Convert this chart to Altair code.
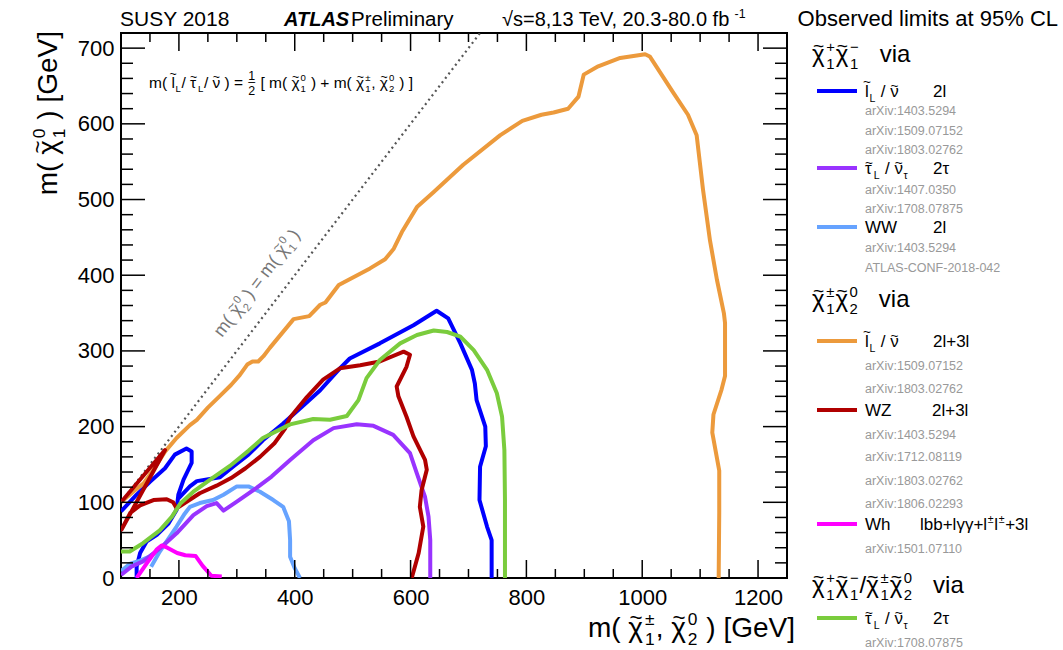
import math
import altair as alt
import pandas as pd

# ---------------- observed exclusion contours (GeV) ----------------
# chi1+ chi1- via slepton/sneutrino (2l): small diagonal loop + main contour
blue_a_x = [100, 127, 150, 176, 193, 213, 222, 222, 208, 199, 196, 182, 162, 144, 133, 127, 127]
blue_a_y = [88, 110, 127, 145, 163, 171, 167, 152, 130, 110, 90, 72, 57, 48, 33, 15, 0]
blue_b_x = [199, 219, 231, 271, 295, 320, 345, 380, 412, 444, 478, 495, 547, 605, 645, 665, 686, 706, 711, 714, 729, 730, 720, 719, 732, 740, 740]
blue_b_y = [105, 121, 128, 133, 148, 163, 182, 204, 226, 248, 277, 290, 310, 334, 353, 343, 310, 275, 257, 235, 200, 174, 147, 103, 68, 50, 0]
# chi1+ chi1- via stau/sneutrino-tau (2tau)
purple_x = [100, 118, 138, 167, 196, 225, 248, 265, 277, 300, 334, 360, 392, 432, 467, 507, 536, 570, 599, 611, 625, 631, 634, 634]
purple_y = [4, 15, 22, 39, 59, 83, 95, 99, 89, 101, 119, 134, 156, 182, 198, 203, 201, 189, 165, 138, 107, 81, 50, 0]
# chi1+ chi1- via WW (2l)
lblue_a_x = [100, 116, 133, 148, 160]
lblue_a_y = [9, 19, 23, 28, 34]
lblue_b_x = [152, 167, 182, 196, 210, 219, 236, 259, 277, 300, 320, 340, 363, 380, 390, 392, 392, 400, 409]
lblue_b_y = [15, 35, 52, 68, 85, 94, 99, 103, 110, 121, 121, 114, 103, 94, 75, 50, 28, 13, 0]
# chi1+- chi20 via slepton/sneutrino (2l+3l)
orange_x = [100, 121, 139, 156, 176, 196, 219, 231, 250, 270, 290, 305, 318, 327, 337, 346, 357, 398, 425, 444,
            453, 476, 530, 556, 571, 585, 611, 640, 691, 755, 793, 826, 847, 872, 890, 899, 924, 962, 1005, 1013,
            1053, 1079, 1094, 1105, 1117, 1129, 1141, 1143, 1143, 1137, 1123, 1121, 1133, 1133, 1132]
orange_y = [100, 114, 125, 143, 167, 185, 202, 209, 225, 240, 255, 268, 282, 286, 286, 293, 304, 342, 346, 361,
            364, 387, 409, 421, 435, 457, 490, 510, 546, 585, 604, 612, 615, 620, 636, 665, 676, 687, 692, 689,
            642, 612, 585, 513, 446, 394, 350, 337, 267, 249, 216, 192, 142, 87, 0]
# chi1+- chi20 via WZ (2l+3l)
red_x = [101, 176, 101, 116, 133, 156, 179, 190, 196, 214, 236, 265, 290, 315, 340, 365, 383, 392, 421, 449,
         478, 513, 547, 588, 599, 593, 576, 579, 593, 605, 625, 628, 619, 616, 622, 614, 602]
red_y = [101, 169, 64, 86, 96, 103, 104, 100, 92, 101, 112, 122, 132, 145, 160, 178, 197, 212, 239, 262,
         277, 281, 286, 299, 295, 279, 253, 240, 213, 187, 156, 143, 116, 94, 68, 33, 0]
# chi1+- chi20 via Wh
magenta_x = [127, 145, 162, 170, 180, 197, 211, 229, 241, 256, 274]
magenta_y = [0, 20, 38, 43, 40, 33, 30, 29, 16, 3, 2]
# chi1+chi1- / chi1+- chi20 via stau (2tau)
green_x = [100, 115, 138, 167, 188, 202, 225, 254, 288, 320, 345, 392, 432, 461, 490, 510, 524, 547, 582, 611,
           640, 663, 686, 709, 732, 749, 758, 762, 763, 763]
green_y = [35, 35, 46, 63, 81, 98, 114, 130, 148, 168, 185, 203, 210, 209, 214, 235, 264, 288, 310, 321,
           327, 325, 319, 301, 275, 244, 213, 169, 103, 0]
# kinematic diagonal m(chi20) = m(chi10)
diag_x = [100, 720]
diag_y = [100, 720]

# ---------------- axis ticks ----------------
x_major = [200, 400, 600, 800, 1000, 1200]
x_minor = [v for v in range(150, 1250, 50) if v % 200]
y_major = [0, 100, 200, 300, 400, 500, 600, 700]
y_minor = [v for v in range(20, 720, 20) if v % 100]

# ---------------- texts ----------------
header_left = "SUSY 2018"
header_atlas = "ATLAS"
header_prelim = "Preliminary"
header_energy = "√s=8,13 TeV, 20.3-80.0 fb^{-1}"
header_right = "Observed limits at 95% CL"
x_title = "m( ~χ_{1}^{±}, ~χ_{2}^{0} ) [GeV]"
y_title = "m( ~χ_{1}^{0} ) [GeV]"
mass_relation = "m( ~l_{L}/ ~τ_{L}/ ~ν ) = ½ [ m( ~χ_{1}^{0} ) + m( ~χ_{1}^{±}, ~χ_{2}^{0} ) ]"
diag_label = "m( ~χ_{2}^{0} ) = m( ~χ_{1}^{0} )"
group_heads = ["~χ_{1}^{+}~χ_{1}^{−}   via", "~χ_{1}^{±}~χ_{2}^{0}   via",
               "~χ_{1}^{+}~χ_{1}^{−}/~χ_{1}^{±}~χ_{2}^{0}   via"]
entry_names = ["~l_{L} / ~ν", "~τ_{L} / ~ν_{τ}", "WW", "~l_{L} / ~ν", "WZ", "Wh", "~τ_{L} / ~ν_{τ}"]
entry_final = ["2l", "2τ", "2l", "2l+3l", "2l+3l", "lbb+lγγ+l^{±}l^{±}+3l", "2τ"]
entry_refs = [["arXiv:1403.5294", "arXiv:1509.07152", "arXiv:1803.02762"],
              ["arXiv:1407.0350", "arXiv:1708.07875"],
              ["arXiv:1403.5294", "ATLAS-CONF-2018-042"],
              ["arXiv:1509.07152", "arXiv:1803.02762"],
              ["arXiv:1403.5294", "arXiv:1712.08119", "arXiv:1803.02762", "arXiv:1806.02293"],
              ["arXiv:1501.07110"],
              ["arXiv:1708.07875"]]
curve_colors = ["#0000ff", "#9933ff", "#66a3ff", "#ec9a3c", "#b00000", "#ff00ff", "#7acc3d"]

# ---------------- layout constants ----------------
FONT = "Liberation Sans"
L0, T0, PW, PH = 121, 33, 666, 545

W = {}
for chars, w in [("0123456789", .556), (" ", .278), ("()", .333), ("[]", .278), (",.:/", .278),
                 ("=+~", .584), ("-", .333), ("−", .584), ("±", .549), ("%", .889), ("√", .55),
                 ("abdeghnopqu", .556), ("cksvxyz", .5), ("ft", .278), ("ijl", .222), ("m", .833),
                 ("r", .333), ("w", .722), ("ABEKPSVXY", .667), ("CDHNRU", .722), ("GOQ", .778),
                 ("FTZ", .611), ("I", .278), ("J", .5), ("L", .556), ("M", .833), ("W", .944),
                 ("χ", .55), ("ν", .5), ("τ", .47), ("γ", .5), ("–", .556)]:
    for ch in chars:
        W[ch] = w


def tw(s, fs):
    return fs * sum(W.get(ch, .556) for ch in s)


def parse(s):
    toks, buf, i = [], "", 0
    while i < len(s):
        c = s[i]
        if c == "~":
            if buf:
                toks.append(("n", buf)); buf = ""
            toks.append(("t", s[i + 1])); i += 2
        elif c in "_^":
            if buf:
                toks.append(("n", buf)); buf = ""
            sub = sup = ""
            while i < len(s) and s[i] in "_^":
                j = s.index("}", i)
                if s[i] == "_":
                    sub = s[i + 2:j]
                else:
                    sup = s[i + 2:j]
                i = j + 1
            toks.append(("s", sub, sup))
        elif c == "½":
            if buf:
                toks.append(("n", buf)); buf = ""
            toks.append(("f",)); i += 1
        else:
            buf += c; i += 1
    if buf:
        toks.append(("n", buf))
    return toks


def measure(toks, fs):
    adv = 0.0
    for t in toks:
        if t[0] in ("n", "t"):
            adv += tw(t[1], fs)
        elif t[0] == "s":
            adv += max(tw(t[1], .62 * fs), tw(t[2], .62 * fs)) + .08 * fs
        else:
            adv += tw("1", .8 * fs) + .12 * fs
    return adv


def place(s, x, y, fs, color="#000000", ang=0.0, right=False, whole=False):
    toks = parse(s)
    th = math.radians(ang)
    dx, dy, nx, ny = math.cos(th), math.sin(th), -math.sin(th), math.cos(th)
    if right:
        tot = measure(toks, fs)
        x -= tot * dx; y -= tot * dy
    out = []

    def put(t, a, o, size):
        out.append({"t": t, "x": x - L0 + a * dx + o * nx, "y": y - T0 + a * dy + o * ny,
                    "fs": round(size, 2), "c": color})

    def put_words(s_, a, o, size):
        # SVG collapses runs of spaces: place every word on its own
        if whole and s_.strip() == s_ and "  " not in s_:
            put(s_, a, o, size)
            return
        pos = a
        for k, word in enumerate(s_.split(" ")):
            if k:
                pos += tw(" ", size)
            if word:
                put(word, pos, o, size)
            pos += tw(word, size)

    adv = 0.0
    for t in toks:
        if t[0] == "n":
            put_words(t[1], adv, 0, fs); adv += tw(t[1], fs)
        elif t[0] == "t":
            w = tw(t[1], fs)
            put(t[1], adv, 0, fs)
            ts = .8 * fs
            off = -.66 * fs if t[1] in "lbdhk" else -.42 * fs
            put("~", adv + (w - tw("~", ts)) / 2, off, ts)
            adv += w
        elif t[0] == "s":
            ss = .62 * fs
            if t[1]:
                put(t[1], adv + .04 * fs, .28 * fs, ss)
            if t[2]:
                put(t[2], adv + .04 * fs, -.42 * fs, ss)
            adv += max(tw(t[1], ss), tw(t[2], ss)) + .08 * fs
        else:
            fz = .8 * fs
            put("1", adv + .06 * fs, -.5 * fs, fz)
            put("2", adv + .06 * fs, .42 * fs, fz)
            put("–", adv + .06 * fs, -.1 * fs, fz)
            adv += tw("1", fz) + .12 * fs
    return out


hor, vert, dia = [], [], []
hor += place(header_left, 120, 26, 21, whole=True)
hor += place(header_prelim, 351, 26, 20.5, whole=True)
hor += place(header_energy, 502, 26, 20, whole=True)
hor += place(header_right, 1058, 26, 22, right=True, whole=True)
bold = [{"t": header_atlas, "x": 284 - L0, "y": 26 - T0, "fs": 20, "c": "#000000"}]
hor += place(x_title, 795, 637, 28, right=True)
vert += place(y_title, 57, 31, 28, ang=270, right=True)
hor += place(mass_relation, 149, 88, 15.5)
dia += place(diag_label, 222, 338, 18, color="#777777", ang=307.4)

head_y = [62, 307, 593]
for h, yy in zip(group_heads, head_y):
    hor += place(h, 812, yy, 24)

row_y = [91, 168, 227, 341, 410, 524, 618]
final_x = [933, 933, 933, 933, 932, 920, 933]
ref_y = [[110, 130, 149], [189, 208], [247, 267], [365, 388], [434, 456, 480, 503], [548], [642]]
legend_lines = []
for k in range(7):
    legend_lines.append({"lx": 817 - L0, "lx2": 857 - L0, "ly": row_y[k] - T0, "c": curve_colors[k]})
    hor += place(entry_names[k], 865, row_y[k] + 6, 17)
    hor += place(entry_final[k], final_x[k], row_y[k] + 6, 17)
    for r, ry in zip(entry_refs[k], ref_y[k]):
        hor += place(r, 865, ry + 4.5, 12.5, color="#999999")

# ---------------- chart ----------------
XS = alt.Scale(domain=[100, 1250], nice=False, zero=False)
YS = alt.Scale(domain=[0, 720], nice=False, zero=False)
AX = alt.Axis(values=x_major, format="d", ticks=False, domain=False, grid=False, labelFont=FONT,
              labelFontSize=22, labelColor="black", labelPadding=9, title=None, labelFlush=False)
AY = alt.Axis(values=y_major, format="d", ticks=False, domain=False, grid=False, labelFont=FONT,
              labelFontSize=22, labelColor="black", labelPadding=7, title=None)


def curve_df(segs):
    rows = []
    for si, (xs, ys) in enumerate(segs):
        for i, (a, b) in enumerate(zip(xs, ys)):
            rows.append({"x": a, "y": b, "seg": si, "i": i})
    return pd.DataFrame(rows)


curves = [
    [(blue_a_x, blue_a_y), (blue_b_x, blue_b_y)],
    [(lblue_a_x, lblue_a_y), (lblue_b_x, lblue_b_y)],
    [(purple_x, purple_y)],
    [(orange_x, orange_y)],
    [(red_x, red_y)],
    [(magenta_x, magenta_y)],
    [(green_x, green_y)],
]
ccols = [curve_colors[0], curve_colors[2], curve_colors[1], curve_colors[3], curve_colors[4],
         curve_colors[5], curve_colors[6]]

layers = []
diag_df = pd.DataFrame({"x": diag_x, "y": diag_y, "i": [0, 1]})
layers.append(alt.Chart(diag_df).mark_line(color="#555555", strokeWidth=2.2, strokeDash=[2, 3.5], clip=True)
              .encode(x=alt.X("x:Q", scale=XS, axis=AX), y=alt.Y("y:Q", scale=YS, axis=AY), order="i:Q"))
for segs, col in zip(curves, ccols):
    layers.append(alt.Chart(curve_df(segs)).mark_line(color=col, strokeWidth=4, clip=True, strokeJoin="round")
                  .encode(x=alt.X("x:Q", scale=XS, axis=None), y=alt.Y("y:Q", scale=YS, axis=None),
                          detail="seg:N", order="i:Q"))

# inward ticks on all four sides
tick_specs = [
    (x_major, "x", 18), (x_minor, "x", 9), (y_major[1:], "y", 24), (y_minor, "y", 12),
]
for vals, ax, ln in tick_specs:
    df = pd.DataFrame({"v": vals})
    if ax == "x":
        for y0, y1 in [(PH, PH - ln), (0, ln)]:
            layers.append(alt.Chart(df).mark_rule(color="black", strokeWidth=1.5).encode(
                x=alt.X("v:Q", scale=XS, axis=None), y=alt.value(y0), y2=alt.value(y1)))
    else:
        for x0, x1 in [(0, ln), (PW, PW - ln)]:
            layers.append(alt.Chart(df).mark_rule(color="black", strokeWidth=1.5).encode(
                y=alt.Y("v:Q", scale=YS, axis=None), x=alt.value(x0), x2=alt.value(x1)))

# legend line samples
layers.append(alt.Chart(pd.DataFrame(legend_lines)).mark_rule(strokeWidth=4).encode(
    x=alt.X("lx:Q", scale=None, axis=None), x2="lx2:Q", y=alt.Y("ly:Q", scale=None, axis=None),
    color=alt.Color("c:N", scale=None)))


def text_layer(rows, **kw):
    return alt.Chart(pd.DataFrame(rows)).mark_text(align="left", baseline="alphabetic", font=FONT, **kw).encode(
        x=alt.X("x:Q", scale=None, axis=None), y=alt.Y("y:Q", scale=None, axis=None), text="t:N",
        size=alt.Size("fs:Q", scale=None), color=alt.Color("c:N", scale=None))


layers.append(text_layer(hor))
layers.append(text_layer(bold, fontWeight="bold", fontStyle="italic"))
layers.append(text_layer(vert, angle=270))
layers.append(text_layer(dia, angle=307.4))

chart = alt.layer(*layers).resolve_scale(
    x="independent", y="independent", color="independent", size="independent"
).properties(
    width=PW, height=PH, autosize=alt.AutoSizeParams(type="none"),
    padding={"left": L0, "top": T0, "right": 1063 - L0 - PW, "bottom": 650 - T0 - PH},
    background="white",
).configure_view(stroke="black", strokeWidth=2)

chart.save("out.html", embed_options={"renderer": "svg", "actions": False})
